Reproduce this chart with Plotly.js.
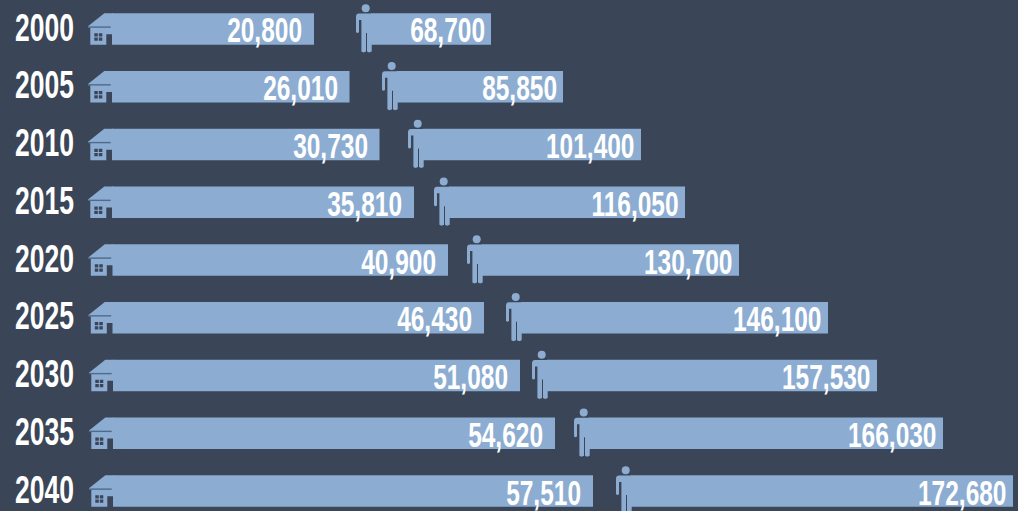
<!DOCTYPE html>
<html><head><meta charset="utf-8">
<script src="https://cdn.plot.ly/plotly-3.0.1.min.js"></script>
<style>html,body{margin:0;padding:0;background:#3a4557;overflow:hidden}</style>
</head><body><div id="chart" style="width:1018px;height:511px"></div>
<script>
const years = ['2000','2005','2010','2015','2020','2025','2030','2035','2040'];
const houses = [20800,26010,30730,35810,40900,46430,51080,54620,57510];
const people = [68700,85850,101400,116050,130700,146100,157530,166030,172680];
// Bar extents: the original is not drawn to a linear scale.
const houseStart = [112,112,112,112,112.5,112.5,113,113,113];
const houseEnd = [314,349.5,379.5,414,448,484,520,555,593];
const personStart = [371,397,423,449,482,521,547,589,631];
const personEnd = [491,563,641,685,739,828,877,943,1013];

const BG='#3a4557', BAR='#8cadd1', DARK='#4f6a8c';
const FONT='"Liberation Sans",Arial,sans-serif';
const fmt=v=>v.toLocaleString('en-US');
const bar=(s,e,name)=>({type:'bar',orientation:'h',name,y:years,base:s,x:e.map((v,i)=>v-s[i]),
  width:0.545,marker:{color:BAR,line:{width:0}},hoverinfo:'skip',showlegend:false});

const pane=(a,b,c,d)=>`M ${a},${c} L ${b},${c} L ${b},${d} L ${a},${d} Z `;
const housePath='M -7.7,15.7 L 1,15.7 L 1,-5.3 L -5.7,-5.3 L -5.7,-15.7 L -21.7,-15.7 L -21.7,1.5 L -24,1.5 L -24,2.7 Z '
  +pane(-17.7,-14.2,-4.3,-7.5)+pane(-13.2,-9.7,-4.3,-7.5)+pane(-17.7,-14.2,-8.5,-11.7)+pane(-13.2,-9.7,-8.5,-11.7);
const houseRoofLine='M -24,2.6 L -1.3,2.6 L -1.3,1.2 L -24,1.2 Z';
const personPath='M -12,15.4 Q -15,15.4 -15,12 L -15,-3 Q -13.5,-5 -12,-3 L -12,9 L -9.6,9 L -9.6,-22.6 Q -7.5,-24.2 -5,-22.6 L -5,-4 L -4,-4 L -4,-22.6 Q -2,-24.2 0.7,-22.6 L 0.7,15.4 Z';

const shapes=[];
years.forEach((y,i)=>{
  const base={xref:'x',yref:'y',xsizemode:'pixel',ysizemode:'pixel',yanchor:i,line:{width:0},layer:'above'};
  shapes.push({...base,type:'path',xanchor:houseStart[i],path:housePath,fillcolor:BAR});
  shapes.push({...base,type:'path',xanchor:houseStart[i],path:houseRoofLine,fillcolor:DARK});
  shapes.push({...base,type:'path',xanchor:personStart[i],path:personPath,fillcolor:BAR});
  shapes.push({...base,type:'circle',xanchor:personStart[i],x0:-9.3,x1:-1.3,y0:16.7,y1:24.7,fillcolor:BAR});
});
const label=(y,x,v,shift)=>({x,y,xref:'x',yref:'y',text:fmt(v),showarrow:false,xanchor:'right',yanchor:'middle',
  xshift:shift,yshift:-1,font:{family:FONT,size:35,weight:'bold',color:'#ffffff'},borderpad:0});
const annotations=[
  ...years.map((y,i)=>label(i,houseEnd[i],houses[i],-11)),
  ...years.map((y,i)=>label(i,personEnd[i],people[i],-5))
];

function squeeze(selector,sx,dy){
  document.querySelectorAll(selector).forEach(t=>{
    const b=t.getBBox(), X=b.x+b.width, prev=t.getAttribute('transform')||'';
    t.setAttribute('transform',`${prev} translate(${X},${dy}) scale(${sx},1) translate(${-X},0)`);
  });
}

Plotly.newPlot('chart',[bar(houseStart,houseEnd,'Households'),bar(personStart,personEnd,'Population')],{
  width:1018,height:511,paper_bgcolor:BG,plot_bgcolor:BG,
  margin:{l:80,r:0,t:0,b:0,pad:0},barmode:'overlay',showlegend:false,
  xaxis:{range:[80,1018],visible:false,fixedrange:true},
  yaxis:{type:'category',categoryorder:'array',categoryarray:years,range:[8.346,-0.502],fixedrange:true,
    showgrid:false,zeroline:false,showline:false,ticks:'',ticklabelstandoff:5,
    tickfont:{family:FONT,size:39,weight:'bold',color:'#ffffff'}},
  shapes,annotations
},{displayModeBar:false,staticPlot:true}).then(()=>{
  squeeze('.annotation-text',0.70,0);
  squeeze('.ytick text',0.68,-2);
});
</script></body></html>
